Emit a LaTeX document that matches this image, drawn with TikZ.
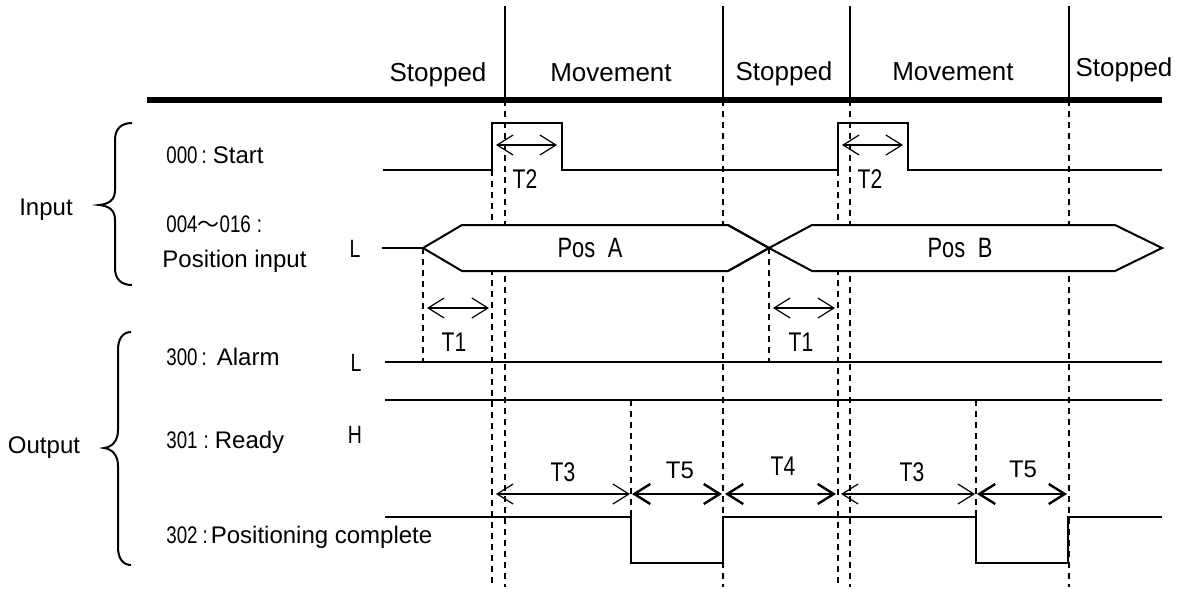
\documentclass[tikz,border=0pt]{standalone}
\usepackage{fontspec}
\setmainfont{Liberation Sans}
\newfontfamily\nf[FakeStretch=0.78]{Liberation Sans}
\newfontfamily\cjk{Noto Sans CJK JP}
\usetikzlibrary{arrows.meta}
\begin{document}
\begin{tikzpicture}[x=0.5pt,y=-0.5pt,
  sig/.style={line width=1pt, line join=miter},
  dsh/.style={line width=0.9pt, dash pattern=on 3pt off 2.5pt},
  tarr/.style={line width=0.6pt, {Straight Barb[length=8pt,width=10pt]}-{Straight Barb[length=8pt,width=10pt]}},
  karr/.style={line width=1.2pt, {Straight Barb[length=8pt,width=10pt]}-{Straight Barb[length=8pt,width=10pt]}},
  phase/.style={font=\fontsize{13}{15}\selectfont, inner sep=0pt, anchor=base},
  lab/.style={font=\fontsize{12}{14}\selectfont, inner sep=0pt, anchor=base west},
  grp/.style={font=\fontsize{12}{14}\selectfont, inner sep=0pt, anchor=base},
  tl/.style={font=\nf\fontsize{13.5}{15}\selectfont, inner sep=0pt, anchor=base},
  tlw/.style={font=\fontsize{12}{14}\selectfont, inner sep=0pt, anchor=base},
  lvl/.style={font=\nf\fontsize{12.5}{14}\selectfont, inner sep=0pt, anchor=base},
  poslabel/.style={font=\nf\fontsize{14}{16}\selectfont, inner sep=0pt, anchor=center}]
\useasboundingbox (0,0) rectangle (1180,591);
\newcommand{\numf}{\nf\fontsize{12}{14}\selectfont}

% dashed guide lines
\foreach \x/\a/\b in {423/248/362, 769/248/362, 492/170/587, 505/100/587,
  723/100/587, 838/170/587, 850/100/587, 1069/100/587, 631/400/517, 976/400/517}
  \draw[dsh] (\x,\a) -- (\x,\b);

% phase bar
\draw[line width=3pt] (147,100) -- (1162,100);
\foreach \x in {505,723,850,1069} \draw[line width=0.7pt] (\x,6) -- (\x,100);
\node[phase] (ph1) at (438,81) {Stopped};
\node[phase] (ph2) at (611,81) {Movement};
\node[phase] (ph3) at (784,80) {Stopped};
\node[phase] (ph4) at (953,80) {Movement};
\node[phase] (ph5) at (1124,76) {Stopped};

% start signal
\draw[sig] (383,170) -- (492,170) -- (492,123) -- (562,123) -- (562,170)
  -- (838,170) -- (838,123) -- (908,123) -- (908,170) -- (1162,170);

% position bus
\draw[sig] (382,248) -- (423,248);
\draw[sig, fill=white] (423,248) -- (462,225) -- (728,225) -- (769,248)
  -- (728,271) -- (462,271) -- cycle;
\draw[sig, fill=white] (769,248) -- (812,225) -- (1115,225) -- (1162,248)
  -- (1115,271) -- (812,271) -- cycle;
\draw[sig] (728,225) -- (769,248) -- (728,271);
\node[poslabel] (posA) at (590,248) {Pos\hspace{0.45em}A};
\node[poslabel] (posB) at (960,248) {Pos\hspace{0.45em}B};

% alarm, ready, positioning complete
\draw[sig] (385,362) -- (1162,362);
\draw[sig] (385,400) -- (1162,400);
\draw[sig] (385,517) -- (631,517) -- (631,563) -- (723,563) -- (723,517)
  -- (976,517) -- (976,563) -- (1068,563) -- (1068,517) -- (1162,517);

% timing arrows
\coordinate (t2a) at (496,145); \coordinate (t2b) at (557,145);
\coordinate (t2c) at (842,145); \coordinate (t2d) at (903,145);
\coordinate (t1a) at (427,308); \coordinate (t1b) at (489,308);
\coordinate (t1c) at (773,308); \coordinate (t1d) at (835,308);
\coordinate (t3a) at (496,494); \coordinate (t3b) at (630,494);
\coordinate (t5a) at (632,494); \coordinate (t5b) at (722,494);
\coordinate (t4a) at (725,494); \coordinate (t4b) at (836,494);
\coordinate (t3c) at (841,494); \coordinate (t3d) at (975,494);
\coordinate (t5c) at (977,494); \coordinate (t5d) at (1067,494);
\draw[tarr] (t2a) -- (t2b);
\draw[tarr] (t2c) -- (t2d);
\draw[tarr] (t1a) -- (t1b);
\draw[tarr] (t1c) -- (t1d);
\draw[tarr] (t3a) -- (t3b);
\draw[karr] (t5a) -- (t5b);
\draw[karr] (t4a) -- (t4b);
\draw[tarr] (t3c) -- (t3d);
\draw[karr] (t5c) -- (t5d);
\node[tl] (T2a) at (525,188) {T2};
\node[tl] (T2b) at (870,188) {T2};
\node[tl] (T1a) at (454,351) {T1};
\node[tl] (T1b) at (801,351) {T1};
\node[tl] (T3a) at (563,481) {T3};
\node[tlw] (T5a) at (680,478) {T5};
\node[tl] (T4) at (783,475) {T4};
\node[tl] (T3b) at (912,481) {T3};
\node[tlw] (T5b) at (1023,477) {T5};

% left labels
\node[grp] (lin) at (46,215) {Input};
\node[grp] (lout) at (44,453) {Output};
\node[lab] (s000) at (166,163) {{\numf 000\kern2pt:\kern3pt}Start};
\node[lab] (s004) at (166,232) {{\numf 004}{\cjk\fontsize{11}{13}\selectfont ～}{\numf 016\kern3pt:}};
\node[lab] (spos) at (162,267) {Position input};
\node[lab] (s300) at (166,365) {{\numf 300\kern2pt:\kern5pt}Alarm};
\node[lab] (s301) at (166,448) {{\numf 301\kern3pt:\kern3pt}Ready};
\node[lab] (s302) at (166,543) {{\numf 302\kern2.5pt:\kern1.5pt}Positioning complete};
\node[lvl] (lvA) at (355,257) {L};
\node[lvl] (lvB) at (356,371) {L};
\node[lvl] (lvC) at (355,443) {H};

% braces
\draw[line width=1pt] (132,123) .. controls (121,123) and (115,129) .. (115,140)
  -- (115,190) .. controls (115,200) and (109,204) .. (99,205)
  .. controls (109,206) and (115,210) .. (115,220)
  -- (115,268) .. controls (115,279) and (121,285) .. (132,285);
\draw[line width=1pt] (131,332) .. controls (122,332) and (118,340) .. (118,350)
  -- (118,430) .. controls (118,441) and (112,447) .. (104,448)
  .. controls (112,449) and (118,455) .. (118,466)
  -- (118,547) .. controls (118,557) and (122,565) .. (131,565);
\end{tikzpicture}
\end{document}
